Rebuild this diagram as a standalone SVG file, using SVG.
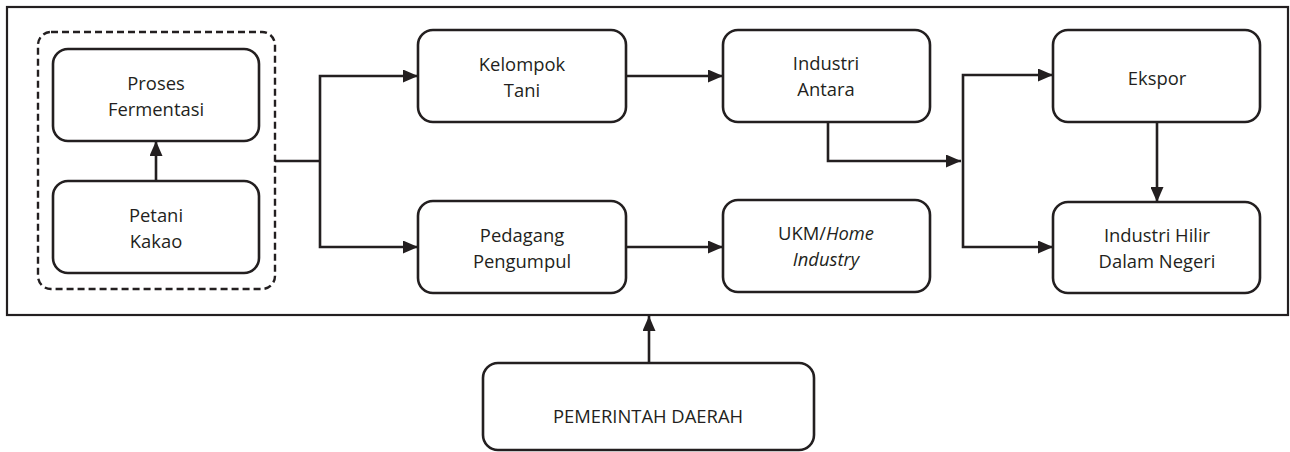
<svg xmlns="http://www.w3.org/2000/svg" width="1290" height="452" viewBox="0 0 1290 452">
<style>
.box{fill:#fff;stroke:#231f20;stroke-width:2.6}
.lbl{font-family:"Open Sans","Noto Sans",sans-serif;font-size:18.4px;fill:#231f20;text-anchor:middle}
.it{font-style:italic}
.con{fill:none;stroke:#231f20;stroke-width:2.6}
</style>
<defs>
<marker id="ah" markerUnits="userSpaceOnUse" markerWidth="16" markerHeight="13" refX="15" refY="6.5" orient="auto">
<path d="M0,0 L15,6.5 L0,13 Z" fill="#231f20"/>
</marker>
</defs>
<rect id="outer" x="7" y="7" width="1281" height="308" fill="#fff" stroke="#231f20" stroke-width="2.2"/>
<g id="group-petani">
<rect x="38" y="32" width="237" height="257" rx="13" fill="none" stroke="#231f20" stroke-width="2.4" stroke-dasharray="7,4"/>
</g>
<g id="proses-fermentasi">
<rect class="box" x="53" y="49" width="206" height="92" rx="15"/>
<text class="lbl" x="156" y="90">Proses</text>
<text class="lbl" x="156" y="116">Fermentasi</text>
</g>
<g id="petani-kakao">
<rect class="box" x="53" y="181" width="206" height="92" rx="15"/>
<text class="lbl" x="156" y="222">Petani</text>
<text class="lbl" x="156" y="248">Kakao</text>
</g>
<g id="kelompok-tani">
<rect class="box" x="418" y="30" width="208" height="92" rx="15"/>
<text class="lbl" x="522" y="71">Kelompok</text>
<text class="lbl" x="522" y="97">Tani</text>
</g>
<g id="pedagang-pengumpul">
<rect class="box" x="418" y="201" width="208" height="92" rx="15"/>
<text class="lbl" x="522" y="242">Pedagang</text>
<text class="lbl" x="522" y="268">Pengumpul</text>
</g>
<g id="industri-antara">
<rect class="box" x="723" y="30" width="207" height="92" rx="15"/>
<text class="lbl" x="826" y="70">Industri</text>
<text class="lbl" x="826" y="96">Antara</text>
</g>
<g id="ukm">
<rect class="box" x="723" y="200" width="207" height="92" rx="15"/>
<text class="lbl" x="826" y="240">UKM/<tspan class="it">Home</tspan></text>
<text class="lbl it" x="826" y="266">Industry</text>
</g>
<g id="ekspor">
<rect class="box" x="1053" y="30" width="207" height="92" rx="15"/>
<text class="lbl" x="1157" y="85">Ekspor</text>
</g>
<g id="industri-hilir">
<rect class="box" x="1053" y="202" width="207" height="91" rx="15"/>
<text class="lbl" x="1157" y="242">Industri Hilir</text>
<text class="lbl" x="1157" y="268">Dalam Negeri</text>
</g>
<g id="pemerintah-daerah">
<rect class="box" x="483" y="363" width="331" height="87" rx="15"/>
<text class="lbl" x="648" y="423">PEMERINTAH DAERAH</text>
</g>
<g id="connectors">
<path class="con" d="M156 181 V141" marker-end="url(#ah)"/>
<path class="con" d="M275 161 H320"/>
<path class="con" d="M320 161 V76 H418" marker-end="url(#ah)"/>
<path class="con" d="M320 161 V247 H418" marker-end="url(#ah)"/>
<path class="con" d="M626 76 H723" marker-end="url(#ah)"/>
<path class="con" d="M626 247 H723" marker-end="url(#ah)"/>
<path class="con" d="M828 122 V161 H961" marker-end="url(#ah)"/>
<path class="con" d="M963 161 V75 H1053" marker-end="url(#ah)"/>
<path class="con" d="M963 161 V247 H1053" marker-end="url(#ah)"/>
<path class="con" d="M1157 122 V202" marker-end="url(#ah)"/>
<path class="con" d="M649 363 V316" marker-end="url(#ah)"/>
</g>
</svg>
